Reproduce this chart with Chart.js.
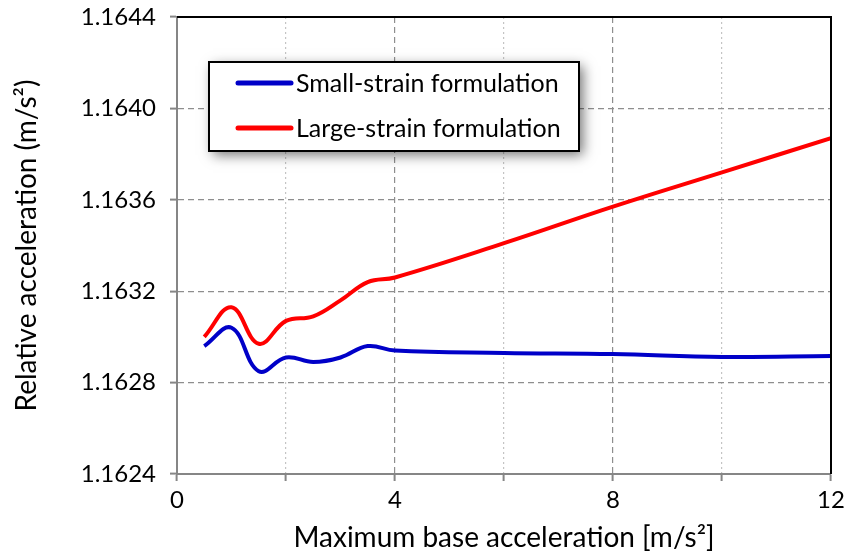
<!DOCTYPE html>
<html>
<head>
<meta charset="utf-8">
<script src="https://cdn.jsdelivr.net/npm/chart.js@4.4.1/dist/chart.umd.min.js"></script>
<style>
  html, body { margin: 0; padding: 0; background: #fff; }
  #wrap { width: 845px; height: 559px; }
</style>
</head>
<body>
<div id="wrap"><canvas id="accel-chart" width="845" height="559"></canvas></div>
<script>
// base acceleration [m/s2]
const baseAccel = [0.5, 1.0, 1.5, 2.0, 2.5, 3.0, 3.5, 4.0, 6.0, 8.0, 10.0, 12.0];
// relative acceleration (m/s2) for each formulation
const smallStrain = [1.16296, 1.16304, 1.16285, 1.16291, 1.16289, 1.16291, 1.16296, 1.16294, 1.16293, 1.162925, 1.162912, 1.162916];
const largeStrain = [1.16300, 1.16313, 1.16297, 1.16307, 1.16309, 1.16316, 1.16324, 1.16326, 1.16341, 1.16357, 1.16372, 1.16387];

const seriesLabels = ['Small-strain formulation', 'Large-strain formulation'];
const seriesColors = ['#0000c8', '#ff0000'];

const yTicks = [1.1624, 1.1628, 1.1632, 1.1636, 1.1640, 1.1644];
const xTickLabels = ['0', '4', '8', '12'];

const FONT = 'Lato, "Open Sans", sans-serif';

function toPoints(ys) {
    return baseAccel.map((x, i) => ({ x: x, y: ys[i] }));
}

// black frame on the top and right of the plot area
const frame = {
    id: 'frame',
    afterDraw(chart) {
        const { ctx, chartArea: a } = chart;
        ctx.save();
        ctx.strokeStyle = '#000';
        ctx.lineWidth = 2;
        ctx.beginPath();
        ctx.moveTo(a.left, a.top);
        ctx.lineTo(a.right, a.top);
        ctx.lineTo(a.right, a.bottom);
        ctx.stroke();
        ctx.restore();
    }
};

// boxed legend with drop shadow inside the plot
const boxLegend = {
    id: 'boxLegend',
    afterDatasetsDraw(chart) {
        const ctx = chart.ctx;
        const box = { x: 209, y: 62, w: 370, h: 89 };
        ctx.save();
        ctx.shadowColor = 'rgba(0,0,0,0.55)';
        ctx.shadowBlur = 12;
        ctx.shadowOffsetX = 4;
        ctx.shadowOffsetY = 4;
        ctx.fillStyle = '#fff';
        ctx.fillRect(box.x, box.y, box.w, box.h);
        ctx.restore();

        ctx.save();
        ctx.strokeStyle = '#000';
        ctx.lineWidth = 2;
        ctx.strokeRect(box.x, box.y, box.w, box.h);
        ctx.font = '25px ' + FONT;
        ctx.textBaseline = 'middle';
        ctx.fillStyle = '#000';
        chart.data.datasets.forEach((ds, i) => {
            const y = box.y + 21 + i * 45;
            ctx.strokeStyle = ds.borderColor;
            ctx.lineWidth = 5;
            ctx.lineCap = 'round';
            ctx.beginPath();
            ctx.moveTo(box.x + 29, y);
            ctx.lineTo(box.x + 82, y);
            ctx.stroke();
            ctx.fillText(ds.label, box.x + 87, y + 1);
        });
        ctx.restore();
    }
};

const ctx = document.getElementById('accel-chart').getContext('2d');

new Chart(ctx, {
    type: 'line',
    data: {
        datasets: [
            {
                label: seriesLabels[0],
                data: toPoints(smallStrain),
                borderColor: seriesColors[0],
                borderWidth: 4,
                pointRadius: 0,
                tension: 0.4,
                fill: false
            },
            {
                label: seriesLabels[1],
                data: toPoints(largeStrain),
                borderColor: seriesColors[1],
                borderWidth: 4,
                pointRadius: 0,
                tension: 0.4,
                fill: false
            }
        ]
    },
    options: {
        responsive: false,
        animation: false,
        layout: { padding: { top: 17, right: 14, left: 0, bottom: 0 } },
        plugins: {
            legend: { display: false },
            tooltip: { enabled: false }
        },
        scales: {
            x: {
                type: 'linear',
                min: 0,
                max: 12,
                afterFit(scale) {
                    scale.height = 85;
                    scale.paddingLeft = 0;
                    scale.paddingRight = 0;
                },
                ticks: {
                    stepSize: 2,
                    maxRotation: 0,
                    autoSkip: false,
                    padding: 5,
                    color: '#000',
                    font: { family: FONT, size: 24 },
                    callback: v => (v % 4 === 0 ? xTickLabels[v / 4] : '')
                },
                grid: {
                    color: c => {
                        const v = c.tick ? c.tick.value : 0;
                        if (v === 0 || v === 12) return 'rgba(0,0,0,0)';
                        return v % 4 === 0 ? '#8e8e8e' : '#c4c4c4';
                    },
                    lineWidth: 1.2,
                    tickColor: '#868686',
                    tickLength: 7,
                    tickWidth: 2
                },
                border: {
                    color: '#868686',
                    width: 2,
                    dash: c => (c.tick && c.tick.value % 4 !== 0 ? [2, 3] : [6, 4])
                },
                title: {
                    display: true,
                    text: 'Maximum base acceleration [m/s²]',
                    color: '#000',
                    font: { family: FONT, size: 28 },
                    padding: { top: 0 }
                }
            },
            y: {
                min: 1.1624,
                max: 1.1644,
                afterFit(scale) {
                    scale.width = 177;
                    scale.paddingTop = 0;
                    scale.paddingBottom = 0;
                },
                afterBuildTicks(scale) { scale.ticks = yTicks.map(v => ({ value: v })); },
                ticks: {
                    padding: 14,
                    color: '#000',
                    font: { family: FONT, size: 24 },
                    callback: v => Number(v).toFixed(4)
                },
                grid: {
                    color: c => {
                        const v = c.tick ? c.tick.value : 0;
                        return (v === 1.1624 || v === 1.1644) ? 'rgba(0,0,0,0)' : '#8e8e8e';
                    },
                    lineWidth: 1.2,
                    tickColor: '#868686',
                    tickLength: 7,
                    tickWidth: 2
                },
                border: {
                    color: '#868686',
                    width: 2,
                    dash: [6, 4]
                },
                title: {
                    display: true,
                    text: 'Relative acceleration (m/s²)',
                    color: '#000',
                    font: { family: FONT, size: 28 },
                    padding: { top: 10, bottom: 4 }
                }
            }
        }
    },
    plugins: [frame, boxLegend]
});
</script>
</body>
</html>
